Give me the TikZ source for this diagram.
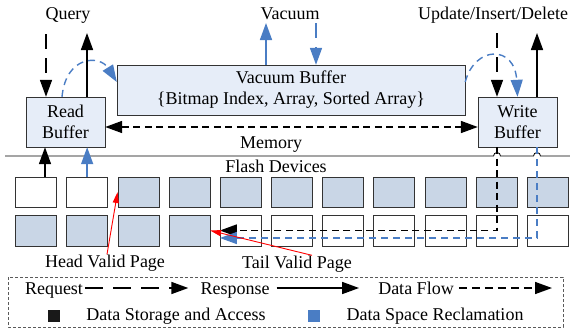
\documentclass[tikz,border=0pt]{standalone}
\usepackage{fontspec}
\setmainfont{Liberation Serif}
\usetikzlibrary{arrows.meta}
\usepackage{xcolor}
\definecolor{bufferfill}{HTML}{E6EDF8}
\definecolor{pagefill}{HTML}{C9D6E6}
\definecolor{vacuumblue}{HTML}{4A7DC4}
\definecolor{legendgray}{HTML}{5A5A5A}

\tikzset{
	buffer/.style={draw=black!80, fill=bufferfill, align=center, inner sep=0pt, minimum height=50pt},
	pagebox/.style={draw=black!80, minimum width=41pt, minimum height=30.5pt, inner sep=0pt},
	lbltext/.style={inner sep=0pt, anchor=base},
	request/.style={->, line width=1.6pt, dash pattern=on 15pt off 9pt},
	response/.style={->, line width=1.6pt},
	dataflow/.style={->, line width=1.6pt, dash pattern=on 7pt off 4.5pt},
	reclaim/.style={->, line width=1.4pt, color=vacuumblue, dash pattern=on 7pt off 5pt},
	pointer/.style={-{Triangle[length=11pt,width=6pt]}, color=red, line width=0.9pt},
}

\begin{document}
\begin{tikzpicture}[x=1pt, y=-1pt, font=\fontsize{18}{21}\selectfont, >={Triangle[length=17pt,width=12pt]}]
	\useasboundingbox (0,0) rectangle (570,330);
	% memory
	\node[buffer, minimum width=79pt] (rb) at (65.5,122) {Read\\Buffer};
	\node[buffer, minimum width=348pt] (vb) at (291,90) {Vacuum Buffer\\\{Bitmap Index, Array, Sorted Array\}};
	\node[buffer, minimum width=79pt] (wb) at (517.5,122) {Write\\Buffer};
	%
	\node[lbltext] (query) at (68,19) {Query};
	\node[lbltext] (vacuum) at (290,19) {Vacuum};
	\node[lbltext] (update) at (493,19) {Update/Insert/Delete};
	\coordinate (q-in) at (46,34);
	\coordinate (q-out) at (87,33);
	\coordinate (v-in) at (316,23);
	\coordinate (v-out) at (266,23);
	\coordinate (u-in) at (497,33);
	\coordinate (u-out) at (537,33);
	%
	\draw[request] (q-in) -- (q-in |- rb.north);
	\draw[response] (q-out |- rb.north) -- (q-out);
	\draw[request, vacuumblue] (v-in) -- (v-in |- vb.north);
	\draw[response, vacuumblue] (v-out |- vb.north) -- (v-out);
	\draw[request] (u-in) -- (u-in |- wb.north);
	\draw[response] (u-out |- wb.north) -- (u-out);
	\draw[reclaim] ([xshift=-3.5pt]rb.north) .. controls (66,55) and (100,55) .. ([yshift=8pt]vb.west);
	\draw[reclaim] ([yshift=8pt]vb.east) .. controls (475,45) and (515,45) .. (wb.north);
	\draw[dataflow, <->] ([yshift=-5pt]rb.east) -- ([yshift=-5pt]wb.west);
	\node[lbltext] (memory) at (271,148) {Memory};
	%
	\draw[line width=0.8pt] (5,156) -- (493.5,156) arc[start angle=180, end angle=0, radius=3.5pt] -- (533.5,156) arc[start angle=180, end angle=0, radius=3.5pt] -- (570,156);
	\node[lbltext] (flash) at (276,172) {Flash Devices};
	% flash pages
	\foreach \i in {0,...,10} {
		\ifnum\i<2 \colorlet{topfill}{white}\else\colorlet{topfill}{pagefill}\fi
		\ifnum\i<4 \colorlet{botfill}{pagefill}\else\colorlet{botfill}{white}\fi
		\node[pagebox, fill=topfill] (p1-\i) at ({36+51.15*\i},192) {};
		\node[pagebox, fill=botfill] (p2-\i) at ({36+51.15*\i},230.5) {};
	}
	\draw[response] ([xshift=9pt]p1-0.north) -- ([xshift=9pt]p1-0.north |- rb.south);
	\draw[response, vacuumblue] (p1-1.north) -- (p1-1.north |- rb.south);
	\draw[dataflow] ([xshift=-20.5pt]wb.south) |- (p2-4.west);
	\draw[reclaim] ([xshift=19.5pt]wb.south) |- ([yshift=-7.5pt]p2-4.west);
	%
	\node[lbltext] (head) at (105,267) {Head Valid Page};
	\node[lbltext] (tail) at (297,268) {Tail Valid Page};
	\draw[pointer] ([xshift=2pt]head.north) -- (p1-2.west);
	\draw[pointer] ([xshift=15pt]tail.north) -- (p2-3.east);
	% legend
	\draw[legendgray, dash pattern=on 3pt off 2pt, line width=0.8pt] (8,277) rectangle (563,327);
	\coordinate (lg) at (0,288);
	\coordinate (lg-end) at (552,288);
	\node[lbltext] (req) at (54,294) {Request};
	\node[lbltext] (resp) at (235,294) {Response};
	\node[lbltext] (flow) at (416,294) {Data Flow};
	\draw[request, dash pattern=on 18pt off 10pt, shorten <=2pt, shorten >=12pt] (req.east |- lg) -- (resp.west |- lg);
	\draw[response, shorten <=7pt, shorten >=19pt] (resp.east |- lg) -- (flow.west |- lg);
	\draw[dataflow, dash pattern=on 8pt off 5pt, shorten <=5pt] (flow.east |- lg) -- (lg-end);
	%
	\node[fill=black!90, minimum size=12pt, inner sep=0pt] (sq-access) at (54,316) {};
	\node[lbltext] (access) at (176,320) {Data Storage and Access};
	\node[fill=vacuumblue, minimum size=12pt, inner sep=0pt] (sq-reclaim) at (314,316) {};
	\node[lbltext] (reclaim-txt) at (435,320) {Data Space Reclamation};
\end{tikzpicture}
\end{document}
